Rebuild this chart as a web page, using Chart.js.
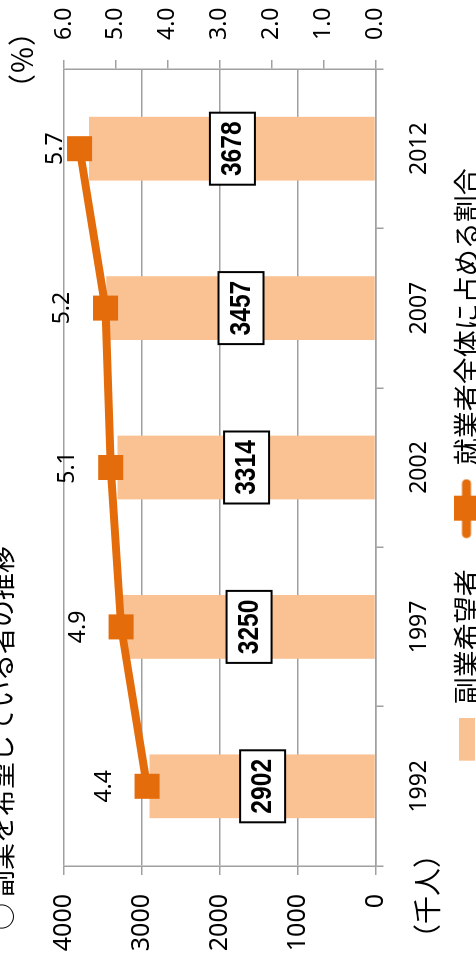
<!DOCTYPE html>
<html lang="ja">
<head>
<meta charset="utf-8">
<title>副業希望者の推移</title>
<script src="https://cdn.jsdelivr.net/npm/chart.js@4.4.1/dist/chart.umd.min.js"></script>
<style>
    html, body {
        margin: 0;
        width: 476px;
        height: 966px;
        overflow: hidden;
        background: #fff;
    }
    /* 元のグラフを横向きに描いて左へ90度回す */
    #wrap {
        position: absolute;
        left: 0;
        top: 0;
        width: 966px;
        height: 490px;
        transform-origin: 0 0;
        transform: translate(0, 966px) rotate(-90deg);
    }
</style>
</head>
<body>
<div id="wrap"><canvas id="chart" width="966" height="490"></canvas></div>
<script>
// データ
const years = ['1992', '1997', '2002', '2007', '2012'];
const jobSeekers = [2902, 3250, 3314, 3457, 3678];   // 副業希望者（千人）
const shareRate = [4.4, 4.9, 5.1, 5.2, 5.7];         // 就業者全体に占める割合（%）
const countTicks = [0, 1000, 2000, 3000, 4000];
const rateTicks = [0, 1, 2, 3, 4, 5, 6];

const barColor = '#FAC192';
const lineColor = '#E46C0A';
const gridColor = '#a0a0a0';
const jpFont = "'Noto Sans CJK JP', 'Noto Sans', sans-serif";
const numFont = "'Noto Sans', sans-serif";

// 凡例用のアイコン
function makeIcon(w, h, draw) {
    const c = document.createElement('canvas');
    c.width = w;
    c.height = h;
    draw(c.getContext('2d'));
    return c;
}
const barIcon = makeIcon(80, 16, g => {
    g.fillStyle = barColor;
    g.fillRect(37, 0, 43, 16);
});
const lineIcon = makeIcon(80, 26, g => {
    g.strokeStyle = lineColor;
    g.lineWidth = 9;
    g.lineCap = 'round';
    g.beginPath();
    g.moveTo(25, 13);
    g.lineTo(75, 13);
    g.stroke();
    g.fillStyle = lineColor;
    g.fillRect(38, 0, 25, 26);
});

// 値ラベル・見出し
const labelPlugin = {
    id: 'labels',
    afterDatasetsDraw(chart) {
        const ctx = chart.ctx;
        ctx.save();
        ctx.textAlign = 'center';
        ctx.textBaseline = 'middle';

        // 棒の値（枠付き、細身の太字）
        chart.getDatasetMeta(1).data.forEach((bar, i) => {
            const p = bar.getProps(['x', 'y', 'base'], true);
            const cy = (p.y + p.base) / 2;
            ctx.fillStyle = '#fff';
            ctx.fillRect(p.x - 36, cy - 22, 72, 45);
            ctx.strokeStyle = '#000';
            ctx.lineWidth = 2;
            ctx.strokeRect(p.x - 36, cy - 22, 72, 45);
            ctx.save();
            ctx.translate(p.x, cy + 1);
            ctx.scale(0.82, 1);
            ctx.font = "bold 30px 'Liberation Sans', Arial, sans-serif";
            ctx.fillStyle = '#000';
            ctx.fillText(String(jobSeekers[i]), 0, 0);
            ctx.restore();
        });

        // 折れ線の値
        ctx.font = '23px ' + numFont;
        ctx.fillStyle = '#000';
        chart.getDatasetMeta(0).data.forEach((pt, i) => {
            const y = Math.max(pt.y - 43, 55);
            ctx.fillText(shareRate[i].toFixed(1), pt.x, y);
        });

        // 単位
        ctx.font = '28px ' + jpFont;
        ctx.fillText('（％）', 906, 22);
        ctx.fillText('（千人）', 70, 427);

        // タイトル（上端で切れている）
        ctx.font = '27px ' + jpFont;
        ctx.textAlign = 'left';
        ctx.fillText('○ 副業を希望している者の推移', 36, 2);
        ctx.restore();
    }
};

new Chart(document.getElementById('chart'), {
    data: {
        labels: years,
        datasets: [{
            type: 'line',
            label: '就業者全体に占める割合',
            data: shareRate,
            yAxisID: 'y1',
            order: 0,
            borderColor: lineColor,
            backgroundColor: lineColor,
            borderWidth: 8,
            tension: 0,
            pointStyle: 'rect',
            pointRadius: 17.7,
            pointBackgroundColor: lineColor,
            pointBorderWidth: 0,
            clip: false
        }, {
            type: 'bar',
            label: '副業希望者',
            data: jobSeekers,
            yAxisID: 'y',
            order: 1,
            backgroundColor: barColor,
            categoryPercentage: 1,
            barPercentage: 0.4
        }]
    },
    options: {
        responsive: false,
        animation: false,
        layout: { padding: { top: 64 } },
        plugins: {
            legend: {
                position: 'bottom',
                reverse: true,
                labels: {
                    usePointStyle: true,
                    pointStyleWidth: 80,
                    padding: 10.5,
                    color: '#000',
                    font: { family: jpFont, size: 27 },
                    generateLabels: chart => Chart.defaults.plugins.legend.labels.generateLabels(chart)
                        .map(item => Object.assign(item, { pointStyle: item.datasetIndex === 1 ? barIcon : lineIcon }))
                }
            },
            tooltip: { enabled: false }
        },
        scales: {
            x: {
                offset: true,
                grid: { offset: true, drawOnChartArea: false, tickLength: 8, color: gridColor, lineWidth: 1.5 },
                border: { color: gridColor, width: 1.5 },
                ticks: { color: '#000', font: { family: numFont, size: 23 }, padding: 22, maxRotation: 0 },
                afterFit: s => { s.height = 67; }
            },
            y: {
                position: 'left',
                min: countTicks[0],
                max: countTicks[countTicks.length - 1],
                ticks: { stepSize: countTicks[1] - countTicks[0], color: '#000', font: { family: numFont, size: 25 }, padding: 19,
                    callback: v => String(v) },
                grid: { tickLength: 9, color: gridColor, lineWidth: 1.5 },
                border: { color: gridColor, width: 1.5 },
                afterFit: s => { s.width = 100; }
            },
            y1: {
                position: 'right',
                min: rateTicks[0],
                max: rateTicks[rateTicks.length - 1],
                ticks: { stepSize: 1, color: '#000', font: { family: numFont, size: 23 }, padding: 20,
                    callback: v => v.toFixed(1) },
                grid: { drawOnChartArea: false, tickLength: 9, color: gridColor, lineWidth: 1.5 },
                border: { color: gridColor, width: 1.5 },
                afterFit: s => { s.width = 69; }
            }
        }
    },
    plugins: [labelPlugin]
});
</script>
</body>
</html>
